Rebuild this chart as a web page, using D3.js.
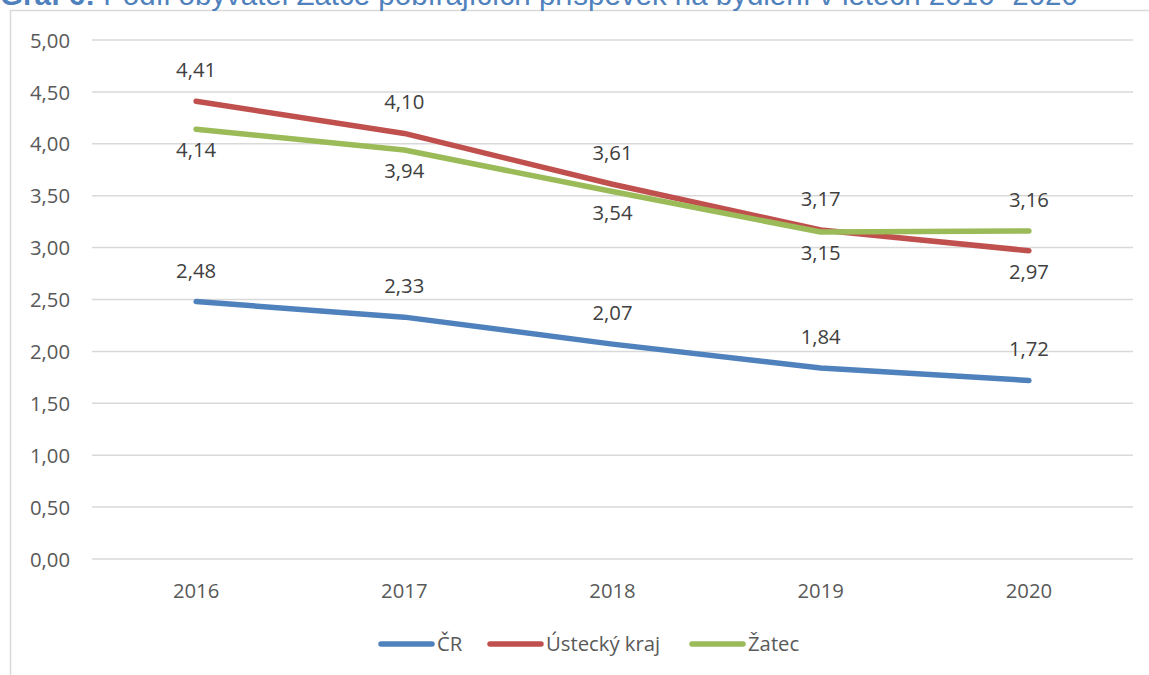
<!DOCTYPE html>
<html><head><meta charset="utf-8">
<script src="https://cdn.jsdelivr.net/npm/d3@7"></script>
<style>
html,body{margin:0;padding:0;background:#fff;overflow:hidden;}
svg{display:block;}
</style></head>
<body>
<svg id="c" width="1149" height="675"></svg>
<script>
const categories = ["2016","2017","2018","2019","2020"];
const seriesNames = ["ČR","Ústecký kraj","Žatec"];
const valuesCR = [2.48, 2.33, 2.07, 1.84, 1.72];
const valuesUstecky = [4.41, 4.10, 3.61, 3.17, 2.97];
const valuesZatec = [4.14, 3.94, 3.54, 3.15, 3.16];
const yTicks = [0, 0.5, 1, 1.5, 2, 2.5, 3, 3.5, 4, 4.5, 5];
// label placement: 1 = above, -1 = below
const labelSideCR = [1,1,1,1,1];
const labelSideUstecky = [1,1,1,1,-1];
const labelSideZatec = [-1,-1,-1,-1,1];

const colors = ["#4f81bd","#c0504d","#9bbb59"];
const series = [
  {name: seriesNames[0], values: valuesCR, side: labelSideCR, color: colors[0]},
  {name: seriesNames[1], values: valuesUstecky, side: labelSideUstecky, color: colors[1]},
  {name: seriesNames[2], values: valuesZatec, side: labelSideZatec, color: colors[2]}
];

const svg = d3.select("#c");
const font = "'Open Sans', 'Noto Sans', sans-serif";
const fs = 20.3;
const textCol = "#595959";
const fmt = v => d3.format(".2f")(v).replace(".", ",");

// chart frame
svg.append("rect").attr("x",10.5).attr("y",10.5).attr("width",1160).attr("height",700)
  .attr("fill","#fff").attr("stroke","#d9d9d9").attr("stroke-width",1.5);

// title (clipped at top like the reference)
const title = svg.append("text").attr("x",0).attr("y",4.5)
  .attr("font-family","'Liberation Sans', Arial, sans-serif").attr("font-size",24)
  .attr("fill","#4f81bd");
title.append("tspan").attr("font-weight","bold").text("Graf 6: ");
title.append("tspan").text("Podíl obyvatel Žatce pobírajících příspěvek na bydlení v letech 2016- 2020");
const tw = title.node().getComputedTextLength();
title.attr("font-size", 24 * 1078 / tw);

const x = d3.scaleBand().domain(categories).range([92, 1133]);
const y = d3.scaleLinear().domain([0,5]).range([559, 40]);

// grid
svg.append("g").selectAll("line").data(yTicks).join("line")
  .attr("x1",92).attr("x2",1133)
  .attr("y1",d=>y(d)).attr("y2",d=>y(d))
  .attr("stroke","#d9d9d9").attr("stroke-width",1.5);

// y axis labels
const yAxis = svg.append("g").attr("transform","translate(70,0)")
  .call(d3.axisLeft(y).tickValues(yTicks).tickFormat(fmt).tickSize(0).tickPadding(0));
yAxis.select(".domain").remove();
yAxis.selectAll("text").attr("font-family",font).attr("font-size",fs).attr("fill",textCol)
  .attr("dy","0.35em");

// x axis labels
const xAxis = svg.append("g").attr("transform","translate(0,583)")
  .call(d3.axisBottom(x).tickSize(0).tickPadding(0));
xAxis.select(".domain").remove();
xAxis.selectAll("text").attr("font-family",font).attr("font-size",fs).attr("fill",textCol)
  .attr("dy","0.72em");

const cx = d => x(d) + x.bandwidth()/2;
const line = d3.line().x((d,i)=>cx(categories[i])).y(d=>y(d));

// lines
svg.append("g").selectAll("path").data(series).join("path")
  .attr("d", s => line(s.values))
  .attr("fill","none").attr("stroke", s=>s.color).attr("stroke-width",5.5)
  .attr("stroke-linecap","round").attr("stroke-linejoin","round");

// data labels
series.forEach(s => {
  svg.append("g").selectAll("text").data(s.values).join("text")
    .attr("x",(d,i)=>cx(categories[i]))
    .attr("y",(d,i)=> s.side[i] > 0 ? y(d) - 24 : y(d) + 28)
    .attr("text-anchor","middle")
    .attr("font-family",font).attr("font-size",fs).attr("fill","#404040")
    .text(fmt);
});

// legend
const legendX = [379, 488, 690];
const lg = svg.append("g");
series.forEach((s,i) => {
  const g = lg.append("g").attr("transform",`translate(${legendX[i]},644)`);
  g.append("line").attr("x1",2).attr("x2",53).attr("y1",0).attr("y2",0)
    .attr("stroke",s.color).attr("stroke-width",5.5).attr("stroke-linecap","round");
  g.append("text").attr("x",58).attr("y",0).attr("dy","0.35em")
    .attr("font-family",font).attr("font-size",fs).attr("fill",textCol).text(s.name);
});
</script>
</body></html>
